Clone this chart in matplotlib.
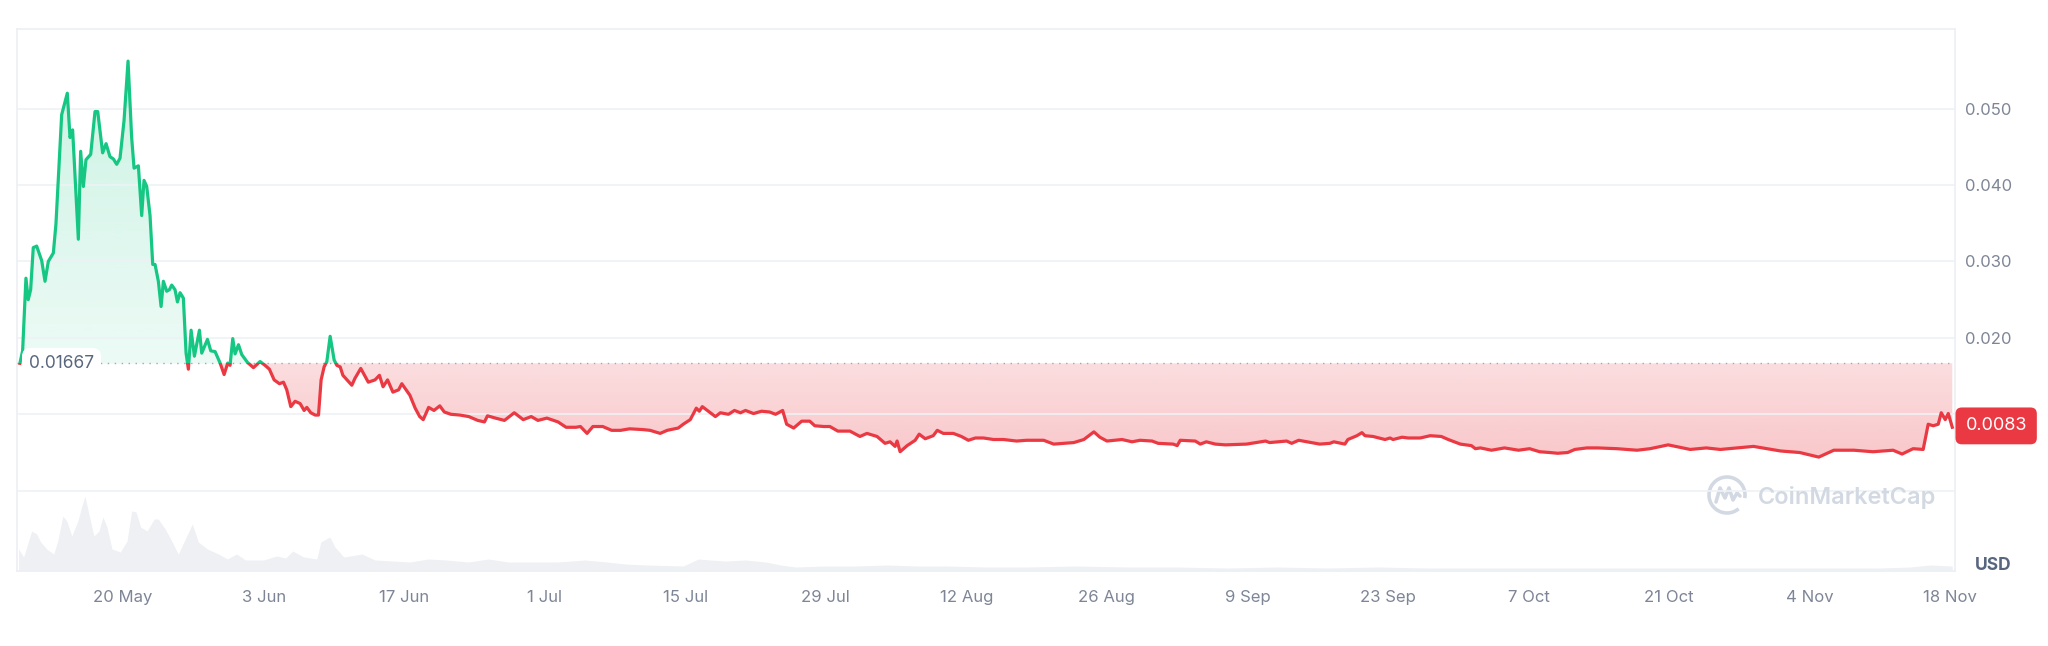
import matplotlib
matplotlib.use('Agg')
import matplotlib.pyplot as plt
import matplotlib.path as mpath
from matplotlib.patches import Arc
import numpy as np

plt.rcParams['font.family'] = ['Inter', 'DejaVu Sans']

# price, x = days after 20 May
price_days = [
    -10.27, -10.0, -9.67, -9.44, -9.2, -8.94, -8.6, -8.1, -7.77, -7.44, -6.94, -6.68, -6.11, -5.55,
    -5.28, -5.02, -4.45, -4.22, -3.95, -3.69, -3.22, -2.79, -2.52, -2.03, -1.69, -1.3, -0.96, -0.63,
    -0.3, 0.1, 0.5, 0.86, 1.1, 1.53, 1.86, 2.09, 2.36, 2.69, 2.96, 3.19, 3.52, 3.79, 4.02, 4.35,
    4.62, 4.85, 5.18, 5.42, 5.68, 6.01, 6.28, 6.51, 6.78, 7.11, 7.61, 7.84, 8.41, 8.74, 9.17, 9.67,
    10.07, 10.43, 10.66, 10.93, 11.16, 11.5, 11.83, 12.39, 12.99, 13.65, 14.15, 14.58, 15.05, 15.58,
    15.98, 16.31, 16.71, 17.14, 17.64, 18.04, 18.31, 18.7, 19.14, 19.47, 19.73, 20.03, 20.3, 20.63,
    21.03, 21.3, 21.63, 21.9, 22.79, 23.1, 23.68, 24.43, 25.1, 25.54, 25.9, 26.35, 26.88, 27.45,
    27.77, 28.57, 29.1, 29.55, 29.9, 30.44, 30.97, 31.55, 32.0, 32.66, 33.55, 34.44, 35.33, 36.0,
    36.3, 37.1, 37.99, 38.97, 39.86, 40.66, 41.33, 42.22, 43.33, 44.13, 45.11, 45.56, 46.22, 46.8,
    47.78, 48.67, 49.56, 50.45, 51.78, 52.5, 53.5, 54.2, 55.3, 55.8, 56.5, 57.1, 57.4, 57.7, 58.3,
    59.0, 59.5, 60.3, 60.9, 61.5, 62.0, 62.8, 63.6, 64.4, 65.0, 65.7, 66.1, 66.8, 67.6, 68.4, 68.9,
    69.8, 70.4, 71.2, 72.4, 73.4, 74.1, 75.1, 75.9, 76.4, 76.9, 77.1, 77.4, 78.1, 78.9, 79.3, 79.9,
    80.7, 81.1, 81.7, 82.7, 83.5, 84.2, 84.9, 85.7, 86.7, 87.7, 89.0, 90.0, 91.7, 92.7, 93.7, 94.7,
    95.7, 96.7, 97.3, 98.0, 99.5, 100.5, 101.3, 102.5, 103.1, 104.6, 105.0, 105.3, 106.8, 107.3,
    107.9, 108.8, 109.8, 111.9, 113.8, 114.2, 115.9, 116.4, 117.1, 119.2, 120.2, 120.6, 121.7,
    122.0, 122.9, 123.4, 123.7, 124.5, 125.7, 126.2, 126.5, 127.4, 128.0, 129.2, 130.2, 131.3,
    132.0, 133.2, 134.3, 134.7, 135.2, 136.3, 137.6, 139.0, 140.1, 141.1, 142.1, 142.9, 143.9,
    144.6, 145.8, 146.9, 148.8, 150.8, 152.1, 153.9, 156.1, 157.7, 159.1, 162.4, 165.1, 167.0,
    168.9, 170.4, 172.4, 174.3, 176.3, 177.2, 178.3, 179.3, 179.8, 180.3, 180.8, 181.1, 181.5,
    181.8, 182.2,
]
price_vals = [
    0.01667, 0.0183, 0.0278, 0.0250, 0.0263, 0.0318, 0.0320, 0.0301, 0.0274, 0.0300, 0.0311, 0.0349,
    0.0492, 0.0520, 0.0462, 0.0472, 0.0329, 0.0444, 0.0398, 0.0433, 0.0440, 0.0496, 0.0496, 0.0442,
    0.0454, 0.0437, 0.0434, 0.0427, 0.0435, 0.0484, 0.0562, 0.0462, 0.0422, 0.0425, 0.0360, 0.0406,
    0.0398, 0.0360, 0.0296, 0.0296, 0.0274, 0.0241, 0.0274, 0.0261, 0.0263, 0.0269, 0.0263, 0.0247,
    0.0259, 0.0252, 0.0180, 0.0159, 0.0210, 0.0176, 0.0210, 0.0180, 0.0198, 0.0183, 0.0182, 0.0167,
    0.0152, 0.0167, 0.0164, 0.0199, 0.0179, 0.0191, 0.0178, 0.0168, 0.0161, 0.0169, 0.0164, 0.0159,
    0.0145, 0.0140, 0.0142, 0.0132, 0.0110, 0.0117, 0.0114, 0.0105, 0.0109, 0.0102, 0.0099, 0.0099,
    0.0145, 0.0162, 0.0169, 0.0202, 0.0171, 0.0164, 0.0162, 0.0151, 0.0138, 0.0147, 0.0160, 0.0142,
    0.0145, 0.0151, 0.0136, 0.0145, 0.0129, 0.0132, 0.0140, 0.0125, 0.0108, 0.0097, 0.0093, 0.0109,
    0.0105, 0.0111, 0.0103, 0.0100, 0.0099, 0.0097, 0.0092, 0.0090, 0.0098, 0.0095, 0.0092, 0.0102,
    0.0093, 0.0097, 0.0092, 0.0095, 0.0090, 0.0083, 0.0083, 0.0084, 0.0075, 0.0084, 0.0084, 0.0079,
    0.0079, 0.0081, 0.0080, 0.0079, 0.0075, 0.0079, 0.0082, 0.0087, 0.0093, 0.0108, 0.0104, 0.0110,
    0.0104, 0.0097, 0.0102, 0.0100, 0.0105, 0.0102, 0.0105, 0.0101, 0.0104, 0.0103, 0.0100, 0.0105,
    0.0087, 0.0082, 0.0091, 0.0091, 0.0085, 0.0084, 0.0084, 0.0078, 0.0078, 0.0071, 0.0075, 0.0071,
    0.0062, 0.0064, 0.0058, 0.0065, 0.0051, 0.0059, 0.0066, 0.0074, 0.0068, 0.0072, 0.0079, 0.0075,
    0.0075, 0.0071, 0.0066, 0.0069, 0.0069, 0.0067, 0.0067, 0.0065, 0.0066, 0.0066, 0.0061, 0.0062,
    0.0063, 0.0067, 0.0077, 0.0070, 0.0065, 0.0067, 0.0064, 0.0066, 0.0065, 0.0062, 0.0061, 0.0059,
    0.0066, 0.0065, 0.0061, 0.0064, 0.0061, 0.0060, 0.0061, 0.0065, 0.0063, 0.0065, 0.0062, 0.0066,
    0.0061, 0.0062, 0.0064, 0.0061, 0.0067, 0.0072, 0.0076, 0.0072, 0.0071, 0.0067, 0.0069, 0.0067,
    0.0070, 0.0069, 0.0069, 0.0072, 0.0071, 0.0067, 0.0061, 0.0059, 0.0055, 0.0056, 0.0053, 0.0056,
    0.0053, 0.0055, 0.0051, 0.0050, 0.0049, 0.0050, 0.0054, 0.0056, 0.0056, 0.0055, 0.0053, 0.0055,
    0.0060, 0.0054, 0.0056, 0.0054, 0.0058, 0.0052, 0.0050, 0.0044, 0.0053, 0.0053, 0.0051, 0.0053,
    0.0048, 0.0055, 0.0054, 0.0087, 0.0085, 0.0087, 0.0102, 0.0093, 0.0101, 0.0083,
]
base_price = 0.01667

# volume (relative units, only the shape is known)
vol_days = [
    -10.4, -9.9, -9.1, -8.6, -8.2, -7.6, -6.9, -6.5, -6.0, -5.6, -5.1, -4.5, -4.1, -3.8, -3.4, -2.9,
    -2.4, -2.0, -1.6, -1.1, -0.27, 0.4, 0.86, 1.3, 1.75, 2.4, 3.1, 3.5, 4.2, 4.9, 5.5, 6.2, 6.9, 7.5,
    8.4, 9.5, 10.4, 11.3, 12.2, 14.0, 15.3, 16.2, 16.9, 18.0, 19.3, 19.7, 20.6, 21.1, 22.0, 23.8,
    25.1, 26.9, 28.6, 30.4, 32.2, 34.4, 36.4, 38.4, 41.1, 43.3, 46.0, 48.2, 50.0, 52.2, 55.8, 57.3,
    58.5, 60.0, 62.0, 64.0, 65.5, 67.0, 70.0, 73.0, 76.0, 79.0, 82.0, 86.0, 90.0, 95.0, 100.0,
    105.0, 110.0, 115.0, 120.0, 125.0, 130.0, 135.0, 140.0, 145.0, 150.0, 155.0, 160.0, 165.0,
    170.0, 175.0, 178.0, 180.0, 182.2,
]
vol_vals = [
    22, 14, 40, 37, 29, 22, 17, 30, 55, 50, 35, 50, 65, 75, 57, 35, 40, 54, 44, 22, 19, 30, 60, 59,
    44, 40, 52, 52, 42, 29, 17, 32, 47, 29, 22, 17, 12, 17, 11, 11, 15, 13, 20, 14, 12, 29, 34, 24,
    14, 17, 11, 10, 9, 12, 11, 9, 12, 9, 9, 9, 11, 9, 7, 6, 5, 12, 11, 10, 11, 9, 6, 4, 5, 5, 6, 5,
    5, 4, 4, 5, 4, 4, 3, 4, 3, 4, 3, 3, 3, 3, 3, 3, 3, 3, 3, 3, 4, 6, 5,
]

tick_days = [0, 14, 28, 42, 56, 70, 84, 98, 112, 126, 140, 154, 168, 182]
tick_labels = ['20 May', '3 Jun', '17 Jun', '1 Jul', '15 Jul', '29 Jul', '12 Aug', '26 Aug',
               '9 Sep', '23 Sep', '7 Oct', '21 Oct', '4 Nov', '18 Nov']
y_ticks = [0.0, 0.01, 0.02, 0.03, 0.04, 0.05]
y_labels = ['', '', '0.020', '0.030', '0.040', '0.050']

green = '#16c784'
red = '#ea3943'
grid_col = '#eff2f5'
label_col = '#7d8596'

W, H = 2048, 646
fig = plt.figure(figsize=(W / 100, H / 100), dpi=100)
ax = fig.add_axes([17 / W, 1 - 571 / H, (1955 - 17) / W, (571 - 29) / H])
x0, x1 = -10.56, 182.47
y0, y1 = -0.0105, 0.0604

# volume on its own hidden axis, behind the price
axv = ax.twinx()
axv.fill_between(vol_days, 0, vol_vals, color='#eef0f4', lw=0)
axv.set_ylim(0, 542)
axv.set_axis_off()
axv.set_zorder(0)
ax.set_zorder(1)
ax.patch.set_visible(False)

x = np.array(price_days)
v = np.array(price_vals)

# gradient fills clipped to the area between price and base line
poly = np.vstack([np.column_stack([x, v]), [[x[-1], base_price], [x[0], base_price]]])
clip = mpath.Path(poly, closed=False)

g_rgba = np.zeros((256, 1, 4))
g_rgba[..., :3] = matplotlib.colors.to_rgb(green)
g_rgba[:, 0, 3] = np.linspace(0.08, 0.22, 256)
im_g = ax.imshow(g_rgba, extent=[x0, x1, base_price, v.max()], origin='lower', aspect='auto',
                 interpolation='bilinear', zorder=1)
im_g.set_clip_path(clip, transform=ax.transData)

r_rgba = np.zeros((256, 1, 4))
r_rgba[..., :3] = matplotlib.colors.to_rgb(red)
r_rgba[:, 0, 3] = np.linspace(0.28, 0.17, 256)
im_r = ax.imshow(r_rgba, extent=[x0, x1, v.min(), base_price], origin='lower', aspect='auto',
                 interpolation='bilinear', zorder=1)
im_r.set_clip_path(clip, transform=ax.transData)

# line, green above the base price, red below
above = mpath.Path([[x0, base_price], [x1, base_price], [x1, 1], [x0, 1], [x0, base_price]])
below = mpath.Path([[x0, base_price], [x1, base_price], [x1, -1], [x0, -1], [x0, base_price]])
lg, = ax.plot(x, v, color=green, lw=2.3, solid_joinstyle='round', zorder=4)
lg.set_clip_path(above, transform=ax.transData)
lr, = ax.plot(x, v, color=red, lw=2.3, solid_joinstyle='round', zorder=4)
lr.set_clip_path(below, transform=ax.transData)

ax.axhline(base_price, color='#a1a7bb', lw=1, ls=(0, (1, 4)), zorder=3)
ax.annotate('0.01667', xy=(0, base_price), xycoords=('axes fraction', 'data'), xytext=(8.6, 0),
            textcoords='offset points', ha='left', va='center', fontsize=12.5, color='#58667e',
            bbox=dict(boxstyle='round,pad=0.4,rounding_size=0.5', fc='white', ec='none'), zorder=5)

ax.set_xlim(x0, x1)
ax.set_ylim(y0, y1)
ax.set_xticks(tick_days)
ax.set_xticklabels(tick_labels)
ax.yaxis.tick_right()
ax.set_yticks(y_ticks)
ax.set_yticklabels(y_labels)
ax.tick_params(axis='x', length=0, pad=14, labelsize=12, labelcolor=label_col)
ax.tick_params(axis='y', length=0, pad=7, labelsize=12, labelcolor=label_col)
ax.grid(axis='y', color=grid_col, lw=1.2, zorder=0)
for s in ax.spines.values():
    s.set_color('#eceff3')
    s.set_linewidth(1.2)

# last price tag
ax.annotate(f'{price_vals[-1]:.4f}', xy=(1, price_vals[-1]), xycoords=('axes fraction', 'data'),
            xytext=(7.5, 1), textcoords='offset points', ha='left', va='center', fontsize=13,
            color='white', bbox=dict(boxstyle='round,pad=0.55,rounding_size=0.35', fc=red, ec='none'),
            annotation_clip=False, zorder=6)

fig.text(1975 / W, 1 - 566 / H, 'USD', ha='left', va='center', fontsize=12.5, fontweight='bold',
         color='#58667e')

# watermark
wm = '#d3d9e3'
fig.text(1758 / W, 1 - 504 / H, 'CoinMarketCap', ha='left', va='baseline', fontsize=17,
         fontweight='semibold', color=wm)
lax = fig.add_axes([(1727 - 20) / W, 1 - (495 + 20) / H, 40 / W, 40 / H])
lax.set_xlim(-1, 1)
lax.set_ylim(-1, 1)
lax.set_axis_off()
lax.add_patch(Arc((0, 0), 1.8, 1.8, theta1=-10, theta2=310, color=wm, lw=2.6))
lax.plot([-0.55, -0.35, -0.1, 0.1, 0.3, 0.5, 0.65], [-0.35, 0.35, -0.15, 0.35, -0.25, 0.1, -0.05],
         color=wm, lw=2.6, solid_joinstyle='round', solid_capstyle='round')

fig.savefig('out.png', dpi=100, facecolor='white')
